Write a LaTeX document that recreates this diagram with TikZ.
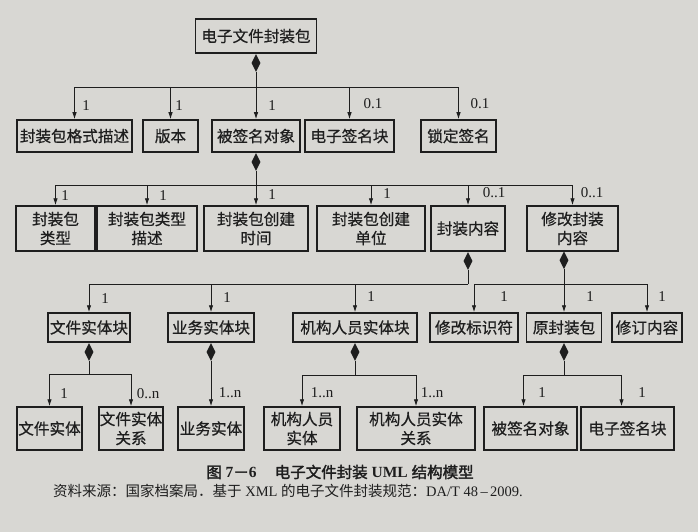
\documentclass[tikz,border=0pt]{standalone}
\usepackage{fontspec}
\setmainfont{Liberation Serif}
\newfontfamily\cjk[AutoFakeBold=2]{Noto Sans CJK SC}
\newfontfamily\cjkm[FakeBold=0.6]{Noto Sans CJK SC}
\usetikzlibrary{shapes.geometric,arrows.meta}
\definecolor{bg}{RGB}{216,215,211}
\definecolor{ink}{RGB}{30,30,30}
\tikzset{
  box/.style={draw=ink, line width=1.5pt, fill=bg, inner sep=0pt, align=center,
    text=ink, font=\cjkm\fontsize{15.6pt}{19pt}\selectfont},
  bx/.style 2 args={box, minimum width=#1pt, minimum height=#2pt},
  dia/.style={diamond, fill=ink, draw=none, minimum width=9pt, minimum height=18pt,
    inner sep=0pt, anchor=north},
  lnk/.style={draw=ink, line width=0.9pt},
  arr/.style={lnk, -{Latex[length=7pt,width=4.5pt]}},
  lab/.style={font=\fontsize{15pt}{15pt}\selectfont, text=ink, inner sep=0pt},
}
\begin{document}
\begin{tikzpicture}[x=1pt,y=-1pt]
\fill[bg] (0,0) rectangle (698,532);
\useasboundingbox (0,0) rectangle (698,532);

% row 0
\node[bx={121}{34}] (top) at (256,36) {电子文件封装包};
\node[dia] (d0) at (top.south) {};
\coordinate (b1) at (256,87);

% row 1
\node[bx={115}{32}] (f1) at (74.5,136) {封装包格式描述};
\node[bx={55}{32}]  (f2) at (170.5,136) {版本};
\node[bx={88}{32}]  (f3) at (256,136) {被签名对象};
\node[bx={89}{32}]  (f4) at (349.5,136) {电子签名块};
\node[bx={75}{32}]  (f5) at (458.5,136) {锁定签名};

\draw[arr] (d0.south) -- (f3.north);
\draw[arr] (b1) -| (f1.north);
\draw[arr] (b1) -| (f5.north);
\draw[arr] (f2.north |- b1) -- (f2.north);
\draw[arr] (f4.north |- b1) -- (f4.north);

\node[lab] (l11) at (86,106) {1};
\node[lab] (l12) at (179,106) {1};
\node[lab] (l13) at (272,106) {1};
\node[lab] (l14) at (373,104) {0.1};
\node[lab] (l15) at (480,104) {0.1};

% row 2
\node[dia] (d3) at (f3.south) {};
\coordinate (b2) at (256,185);
\node[bx={79}{45}]  (g1) at (55.5,228.5) {封装包\\类型};
\node[bx={100}{45}] (g2) at (147,228.5) {封装包类型\\描述};
\node[bx={104}{45}] (g3) at (256,228.5) {封装包创建\\时间};
\node[bx={108}{45}] (g4) at (371,228.5) {封装包创建\\单位};
\node[bx={74}{45}]  (g5) at (468,228.5) {封装内容};
\node[bx={91}{45}]  (g6) at (572.5,228.5) {修改封装\\内容};

\draw[arr] (d3.south) -- (g3.north);
\draw[arr] (b2) -| (g1.north);
\draw[arr] (b2) -| (g6.north);
\draw[arr] (g2.north |- b2) -- (g2.north);
\draw[arr] (g4.north |- b2) -- (g4.north);
\draw[arr] (g5.north |- b2) -- (g5.north);

\node[lab] (l21) at (65,196) {1};
\node[lab] (l22) at (163,196) {1};
\node[lab] (l23) at (272,195) {1};
\node[lab] (l24) at (387,194) {1};
\node[lab] (l25) at (494,193) {0..1};
\node[lab] (l26) at (592,193) {0..1};

% row 3
\node[dia] (d5) at (g5.south) {};
\node[dia] (d6) at (564,251) {};
\coordinate (b3) at (468,284);
\coordinate (b4) at (564,284);
\node[bx={82}{29}]  (h1) at (89,327.5) {文件实体块};
\node[bx={86}{29}]  (h2) at (211,327.5) {业务实体块};
\node[bx={124}{29}] (h3) at (355,327.5) {机构人员实体块};
\node[bx={88}{29}]  (h4) at (474,327.5) {修改标识符};
\node[bx={75}{29}]  (h5) at (564,327.5) {原封装包};
\node[bx={70}{29}]  (h6) at (647,327.5) {修订内容};

\draw[lnk] (d5.south) -- (b3);
\draw[arr] (b3) -| (h1.north);
\draw[arr] (h2.north |- b3) -- (h2.north);
\draw[arr] (h3.north |- b3) -- (h3.north);
\draw[arr] (d6.south) -- (h5.north);
\draw[arr] (b4) -| (h4.north);
\draw[arr] (b4) -| (h6.north);

\node[lab] (l31) at (105,299) {1};
\node[lab] (l32) at (227,298) {1};
\node[lab] (l33) at (371,297) {1};
\node[lab] (l34) at (504,297) {1};
\node[lab] (l35) at (590,297) {1};
\node[lab] (l36) at (662,297) {1};

% row 4
\node[dia] (d7) at (h1.south) {};
\node[dia] (d8) at (h2.south) {};
\node[dia] (d9) at (h3.south) {};
\node[dia] (d10) at (h5.south) {};
\coordinate (b5) at (89,374);
\coordinate (b6) at (355,375);
\coordinate (b7) at (564,375);
\node[bx={65}{43}]  (i1) at (49.5,428.5) {文件实体};
\node[bx={64}{43}]  (i2) at (131,428.5) {文件实体\\关系};
\node[bx={66}{43}]  (i3) at (211,428.5) {业务实体};
\node[bx={76}{43}]  (i4) at (302,428.5) {机构人员\\实体};
\node[bx={118}{43}] (i5) at (416,428.5) {机构人员实体\\关系};
\node[bx={93}{43}]  (i6) at (530.5,428.5) {被签名对象};
\node[bx={93}{43}]  (i7) at (627.5,428.5) {电子签名块};

\draw[lnk] (d7.south) -- (b5);
\draw[arr] (b5) -| (i1.north);
\draw[arr] (b5) -| (i2.north);
\draw[arr] (d8.south) -- (i3.north);
\draw[lnk] (d9.south) -- (b6);
\draw[arr] (b6) -| (i4.north);
\draw[arr] (b6) -| (i5.north);
\draw[lnk] (d10.south) -- (b7);
\draw[arr] (b7) -| ([xshift=-7pt]i6.north);
\draw[arr] (b7) -| ([xshift=-6pt]i7.north);

\node[lab] (l41) at (64,394) {1};
\node[lab] (l42) at (148,394) {0..n};
\node[lab] (l43) at (230,393) {1..n};
\node[lab] (l44) at (322,393) {1..n};
\node[lab] (l45) at (432,393) {1..n};
\node[lab] (l46) at (542,393) {1};
\node[lab] (l47) at (642,393) {1};

% caption
\node[text=ink, inner sep=0pt, font=\fontsize{15.5pt}{15.5pt}\selectfont] (cap) at (340,472)
  {{\cjk\bfseries 图} \textbf{7}{\cjk\bfseries －}\textbf{6}\hspace{18pt}{\cjk\bfseries 电子文件封装} \textbf{UML} {\cjk\bfseries 结构模型}};
\node[text=ink, inner sep=0pt, anchor=west, font=\fontsize{14.5pt}{14.5pt}\selectfont] (src) at (53,491)
  {{\cjk 资料来源：国家档案局．基于} XML {\cjk 的电子文件封装规范：}DA/T 48\,–\,2009.};
\end{tikzpicture}
\end{document}
